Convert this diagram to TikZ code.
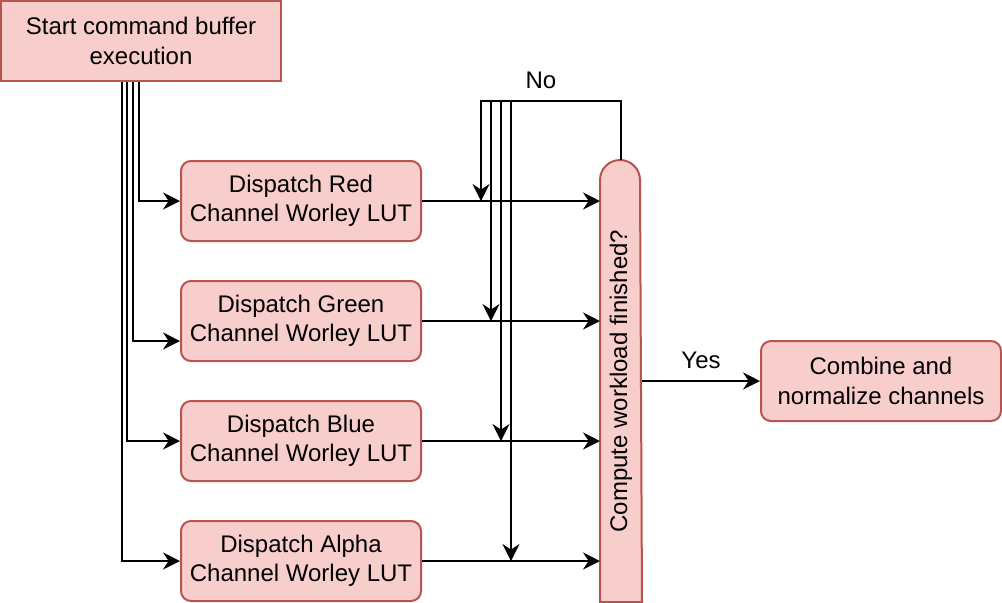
\documentclass[tikz,border=0pt]{standalone}
\usepackage{fontspec}
\setmainfont{Liberation Sans}
\usetikzlibrary{arrows.meta,calc}
\definecolor{boxfill}{HTML}{F8CECC}
\definecolor{boxdraw}{HTML}{B85450}
\begin{document}
\begin{tikzpicture}[x=0.5pt,y=-0.5pt,
  font=\fontsize{12}{14.7}\selectfont,
  box/.style={draw=boxdraw,fill=boxfill,line width=1pt,align=center,minimum width=120pt,minimum height=40pt,inner sep=0pt},
  rbox/.style={box,rounded corners=5pt},
  arr/.style={line width=1pt,-{Stealth[length=8.5pt,width=8.5pt,inset=2.8pt]}}]
\useasboundingbox (0,0) rectangle (1002,602);
% decision shape (rounded top only)
\node[minimum width=20pt,minimum height=220pt,inner sep=0pt,outer sep=0.5pt] (dec) at (621,381) {};
\draw[draw=boxdraw,fill=boxfill,line width=1pt] (dec.south west) -- ([yshift=-10pt]dec.north west) arc[start angle=180,end angle=0,radius=10pt] -- (dec.south east) -- cycle;
\node[rotate=90,inner sep=0pt] (dectext) at (dec.center) {Compute workload finished?};
\node[box,minimum width=140pt] (start) at (141,41) {Start command buffer\\execution};
\node[rbox] (red) at (301,201) {Dispatch Red\\Channel Worley LUT};
\node[rbox] (green) at (301,321) {Dispatch Green\\Channel Worley LUT};
\node[rbox] (blue) at (301,441) {Dispatch Blue\\Channel Worley LUT};
\node[rbox] (alpha) at (301,561) {Dispatch Alpha\\Channel Worley LUT};
\node[rbox] (comb) at (881,381) {Combine and\\normalize channels};
\node (no) at (541,80) {No};
\node (yes) at (701,360) {Yes};
% start to dispatch
\draw[arr] ([xshift=-1pt]start.south) |- (red.west);
\draw[arr] ([xshift=-4pt]start.south) |- ([yshift=-10pt]green.west);
\draw[arr] ([xshift=-7pt]start.south) |- (blue.west);
\draw[arr] ([xshift=-9.5pt]start.south) |- (alpha.west);
% dispatch to decision
\draw[arr] (red.east) -- (red.east -| dec.west);
\draw[arr] (green.east) -- (green.east -| dec.west);
\draw[arr] (blue.east) -- (blue.east -| dec.west);
\draw[arr] (alpha.east) -- (alpha.east -| dec.west);
% No loop
\coordinate (n1) at (481,101);
\coordinate (n2) at (491,101);
\coordinate (n3) at (501,101);
\coordinate (n4) at (511,101);
\draw[arr] (dec.north) |- (n1) -- (n1 |- red.east);
\draw[arr] (n2) -- (n2 |- green.east);
\draw[arr] (n3) -- (n3 |- blue.east);
\draw[arr] (n4) -- (n4 |- alpha.east);
% Yes
\draw[arr] (dec.east) -- (comb.west);
\end{tikzpicture}
\end{document}
